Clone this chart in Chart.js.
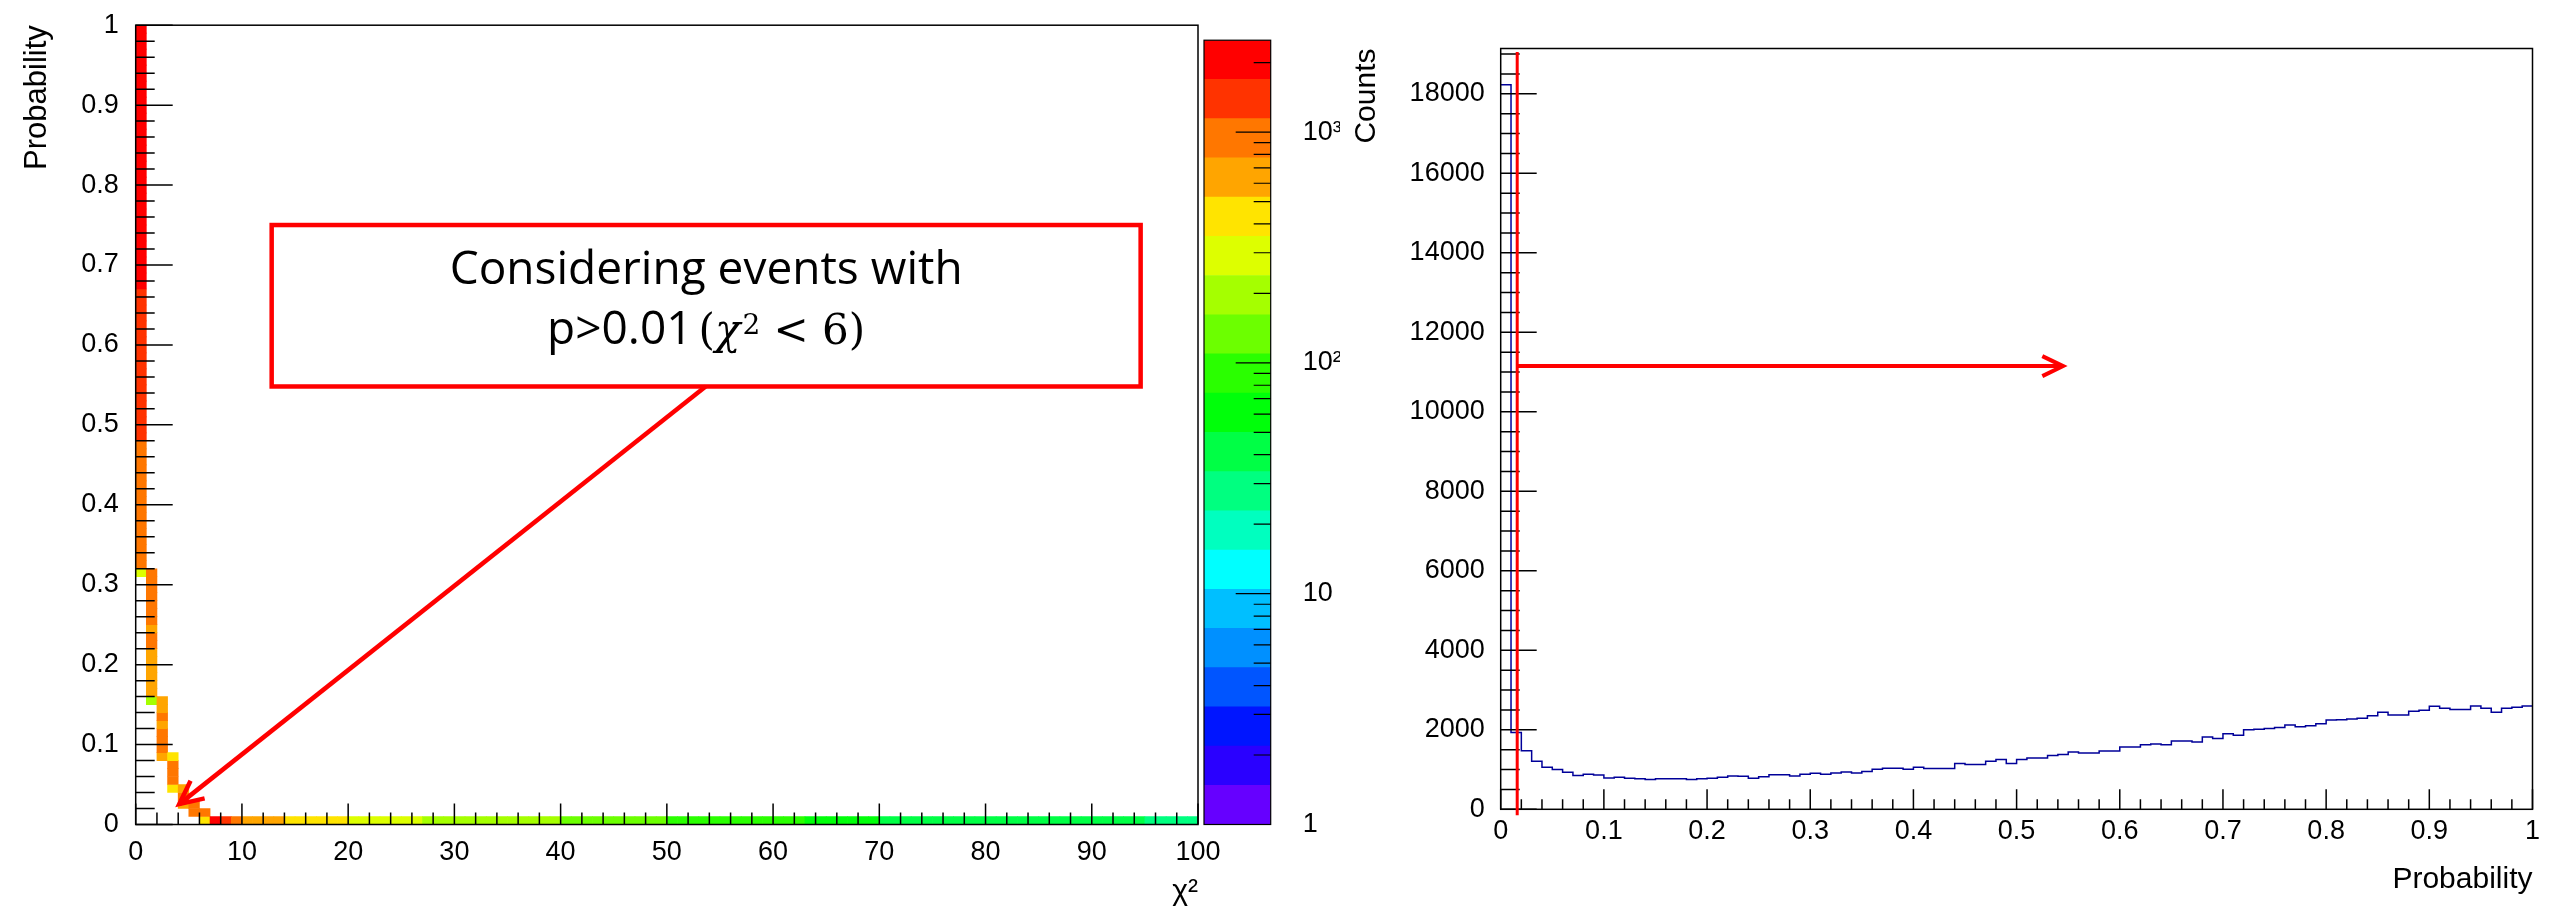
<!DOCTYPE html>
<html>
<head>
<meta charset="utf-8">
<script src="https://cdn.jsdelivr.net/npm/chart.js@4/dist/chart.umd.min.js"></script>
<style>
  html, body { margin: 0; padding: 0; background: #fff; }
  body { width: 2552px; height: 906px; position: relative; overflow: hidden; }
  canvas { position: absolute; top: 0; }
</style>
</head>
<body>
<canvas id="map" width="1240" height="906" style="left:0"></canvas>
<canvas id="zaxis" width="140" height="906" style="left:1200px"></canvas>
<canvas id="prob" width="1212" height="906" style="left:1340px"></canvas>
<script>
// chi2 / probability plots, ROOT look

// ---- left: chi2 vs probability map, cells 1 (chi2) x 0.01 (prob) ----
// chi2 columns 0..6 cover several probability rows (listed from lowest row up)
const colFirstRow = [31, 15, 8, 4, 2, 1, 0];
const colCounts = [
  [280,
   920, 940, 930, 950, 1000, 1030, 1030, 1010, 1050, 1030, 1030, 1030, 1080, 1090, 1100, 1110,
   1200, 1220, 1250, 1290, 1290, 1360, 1380, 1440, 1420, 1420, 1470, 1470, 1570, 1570, 1600, 1620, 1600, 1630, 1640,
   1700, 1820, 1780, 1900, 1860, 2000, 2020, 2030, 2060, 2120, 2080, 2100, 2150, 2250, 2250, 2270, 2290,
   2360, 2440, 2370, 2370, 2420, 2400, 2400, 2400, 2380, 2410, 2400, 2400, 2390, 2400, 2400, 2420],
  [200, 700, 700, 680, 700, 690, 700, 900, 900, 700, 900, 920, 900, 930, 900, 910, 920],
  [600, 900, 900, 900, 650, 900, 650, 650],
  [450, 900, 900, 900, 450],
  [650, 900, 650],
  [900, 900],
  [450, 850]
];
// chi2 columns 7..99 only fill the lowest probability row
const tailFirstBin = 7;
const tailCounts = [
  1900, 1300, 1000,
  700, 650, 600, 560,
  480, 460, 430, 410, 390, 370,
  330, 310, 300, 280, 270, 255, 245,
  225, 215, 205, 200, 195, 190, 185, 180, 175, 172, 170, 167, 165,
  150, 145, 140, 135, 130, 127, 124, 120, 117, 113,
  105, 102, 99, 96, 93, 90, 87, 85, 82, 80, 78, 77, 76,
  70, 67, 64, 61, 58, 55, 52,
  48, 47, 47, 46, 45, 45, 44, 43, 43, 42, 41, 41, 40, 39, 39, 38, 38, 37, 37, 36, 36, 35, 35, 34, 34,
  32, 31, 30, 29, 28
];

// colour axis (log)
const zMin = 1;
const zMax = 2500;
const zLabelText = { 1: '1', 10: '10', 100: '10²', 1000: '10³' };

// ---- right: probability distribution, 100 bins of 0.01 ----
const probCounts = [
  18230, 1930, 1470, 1210, 1060, 1000, 930, 850, 880, 860,
  790, 805, 780, 770, 750, 770, 770, 770, 750, 770,
  780, 805, 840, 830, 780, 820, 870, 870, 840, 880,
  905, 880, 915, 940, 915, 950, 1010, 1035, 1035, 1010,
  1060, 1025, 1025, 1025, 1150, 1130, 1130, 1210, 1250, 1150,
  1250, 1290, 1290, 1355, 1380, 1440, 1415, 1415, 1465, 1465,
  1570, 1570, 1625, 1645, 1625, 1720, 1720, 1695, 1820, 1780,
  1900, 1865, 2000, 2015, 2035, 2060, 2120, 2075, 2100, 2155,
  2245, 2255, 2270, 2290, 2355, 2440, 2375, 2375, 2465, 2490,
  2595, 2545, 2510, 2510, 2600, 2545, 2440, 2545, 2570, 2600
];
const countTicks = [0, 2000, 4000, 6000, 8000, 10000, 12000, 14000, 16000, 18000];
const probMax = 19140;
const cutProb = 0.016;          // red selection line
const arrowCounts = 11150;      // height of the horizontal arrow
const arrowEndProb = 0.545;

// annotation on the map (data coordinates)
const noteBox = { x0: 12.8, x1: 94.6, y0: 0.548, y1: 0.75 };
const noteArrow = { x0: 53.65, y0: 0.548, x1: 4.1, y1: 0.0255 };
const noteBaselines = [0.6758, 0.6014];

// ROOT rainbow palette, lowest band first
const palette = ['#6600ff', '#2a00ff', '#0015ff', '#0055ff', '#0090ff', '#00bfff', '#00ffff',
  '#00ffbf', '#00ff80', '#00ff45', '#00ff0a', '#2aff00', '#6cff00', '#a5ff00', '#ddff00',
  '#ffe400', '#ffa500', '#ff7700', '#ff3300', '#ff0000'];

Chart.defaults.font.family = "'Liberation Sans', Arial, sans-serif";
Chart.defaults.color = '#000';
Chart.defaults.animation = false;
Chart.defaults.plugins.legend.display = false;
Chart.defaults.plugins.tooltip.enabled = false;

const nBands = palette.length;
const zLog = Math.log10(zMax / zMin);
function bandOf(c) {
  const b = Math.floor(Math.log10(c / zMin) / zLog * nBands);
  return Math.max(0, Math.min(nBands - 1, b));
}
const fmt = v => String(+v.toFixed(2));

// inward ROOT style ticks + frame
function drawAxisTicks(ctx, scale, area, major, minor, nSub) {
  const vals = scale.ticks.map(t => t.value);
  const step = (vals[1] - vals[0]) / nSub;
  ctx.beginPath();
  for (let i = 0; ; i++) {
    const v = scale.min + i * step;
    if (v > scale.max + step * 1e-6) break;
    const len = i % nSub === 0 ? major : minor;
    const p = scale.getPixelForValue(v);
    if (scale.isHorizontal()) {
      ctx.moveTo(p, area.bottom); ctx.lineTo(p, area.bottom - len);
    } else {
      ctx.moveTo(area.left, p); ctx.lineTo(area.left + len, p);
    }
  }
  ctx.stroke();
}
function drawFrame(chart, tk) {
  const { ctx, chartArea: a, scales } = chart;
  ctx.save();
  ctx.strokeStyle = '#000';
  ctx.lineWidth = 1.5;
  ctx.strokeRect(a.left, a.top, a.right - a.left, a.bottom - a.top);
  drawAxisTicks(ctx, scales.x, a, tk.xMajor, tk.xMinor, tk.xSub);
  drawAxisTicks(ctx, scales.y, a, tk.yMajor, tk.yMinor, tk.ySub);
  ctx.restore();
}
function drawArrow(ctx, x1, y1, x2, y2, len, half) {
  ctx.beginPath(); ctx.moveTo(x1, y1); ctx.lineTo(x2, y2); ctx.stroke();
  const a = Math.atan2(y2 - y1, x2 - x1);
  ctx.beginPath();
  ctx.moveTo(x2 - len * Math.cos(a - half), y2 - len * Math.sin(a - half));
  ctx.lineTo(x2, y2);
  ctx.lineTo(x2 - len * Math.cos(a + half), y2 - len * Math.sin(a + half));
  ctx.stroke();
}

// ---------- left chart ----------
const cells = [];
colCounts.forEach((rows, k) => rows.forEach((c, i) => {
  const r = colFirstRow[k] + i;
  cells.push({ x: k + 0.5, y: [r / 100, (r + 1) / 100], c: c });
}));
tailCounts.forEach((c, i) => cells.push({ x: tailFirstBin + i + 0.5, y: [0, 0.01], c: c }));

const mapDecor = {
  id: 'mapDecor',
  afterDatasetsDraw(chart) {
    drawFrame(chart, { xMajor: 21, xMinor: 12, xSub: 5, yMajor: 37, yMinor: 19, ySub: 5 });
    const { ctx, scales: { x, y } } = chart;
    ctx.save();
    ctx.strokeStyle = '#ff0000';
    ctx.fillStyle = '#fff';
    ctx.lineWidth = 4.5;
    const bx0 = x.getPixelForValue(noteBox.x0), bx1 = x.getPixelForValue(noteBox.x1);
    const by0 = y.getPixelForValue(noteBox.y1), by1 = y.getPixelForValue(noteBox.y0);
    ctx.fillRect(bx0, by0, bx1 - bx0, by1 - by0);
    ctx.strokeRect(bx0, by0, bx1 - bx0, by1 - by0);
    ctx.lineJoin = 'miter';
    drawArrow(ctx, x.getPixelForValue(noteArrow.x0), y.getPixelForValue(noteArrow.y0),
      x.getPixelForValue(noteArrow.x1), y.getPixelForValue(noteArrow.y1), 26, 0.45);
    // text
    const cx = (bx0 + bx1) / 2;
    ctx.fillStyle = '#000';
    ctx.textBaseline = 'alphabetic';
    ctx.textAlign = 'center';
    ctx.font = "46px 'Open Sans'";
    ctx.fillText('Considering events with', cx, y.getPixelForValue(noteBaselines[0]));
    const parts = [
      { t: 'p>0.01', f: "46px 'Open Sans'", dy: 0, gap: 6 },
      { t: '(', f: "42px 'DejaVu Serif'", dy: 0, gap: 0 },
      { t: 'χ', f: "italic 42px 'DejaVu Serif'", dy: 0, gap: 2 },
      { t: '2', f: "28px 'DejaVu Serif'", dy: -10, gap: 0 },
      { t: ' < 6)', f: "42px 'DejaVu Serif'", dy: 0, gap: 0 }
    ];
    let w = 0;
    parts.forEach(p => { ctx.font = p.f; p.w = ctx.measureText(p.t).width; w += p.w + p.gap; });
    let px = cx - w / 2;
    const base2 = y.getPixelForValue(noteBaselines[1]);
    ctx.textAlign = 'left';
    parts.forEach(p => { ctx.font = p.f; ctx.fillText(p.t, px, base2 + p.dy); px += p.w + p.gap; });
    ctx.restore();
  }
};

new Chart(document.getElementById('map'), {
  type: 'bar',
  data: {
    datasets: [{
      data: cells,
      backgroundColor: c => palette[bandOf(c.raw.c)],
      borderWidth: 0,
      barPercentage: 1,
      categoryPercentage: 1
    }]
  },
  options: {
    responsive: false,
    layout: { padding: { left: 0, top: 19.3, right: 42, bottom: 0 } },
    scales: {
      x: {
        type: 'linear', min: 0, max: 100, offset: false,
        grid: { display: false }, border: { display: false },
        ticks: { stepSize: 10, padding: 4, maxRotation: 0, font: { size: 27 }, callback: fmt },
        title: { display: true, text: 'χ²', align: 'end', font: { size: 30 }, padding: { top: 0, bottom: -4 } },
        afterFit: s => { s.height = 81.5; }
      },
      y: {
        type: 'linear', min: 0, max: 1,
        grid: { display: false }, border: { display: false },
        ticks: { stepSize: 0.1, padding: 9, font: { size: 27 }, callback: fmt },
        title: { display: true, text: 'Probability', align: 'end', font: { size: 31 }, padding: { top: 19, bottom: 0 } },
        afterFit: s => { s.width = 135.7; }
      }
    }
  },
  plugins: [mapDecor]
});

// ---------- colour axis ----------
const bandSets = palette.map((col, i) => ({
  data: [[zMin * Math.pow(10, zLog * i / nBands), zMin * Math.pow(10, zLog * (i + 1) / nBands)]],
  backgroundColor: col,
  borderWidth: 0,
  barPercentage: 1,
  categoryPercentage: 1,
  grouped: false
}));

const zDecor = {
  id: 'zDecor',
  afterDatasetsDraw(chart) {
    const { ctx, chartArea: a, scales: { y } } = chart;
    ctx.save();
    ctx.strokeStyle = '#000';
    ctx.lineWidth = 1.2;
    ctx.strokeRect(a.left, a.top, a.right - a.left, a.bottom - a.top);
    ctx.beginPath();
    for (let dec = zMin; dec <= zMax; dec *= 10) {
      for (let m = 1; m < 10; m++) {
        const v = dec * m;
        if (v > zMax) break;
        const p = y.getPixelForValue(v);
        ctx.moveTo(a.right, p);
        ctx.lineTo(a.right - (m === 1 ? 35 : 17), p);
      }
    }
    ctx.stroke();
    ctx.restore();
  }
};

new Chart(document.getElementById('zaxis'), {
  type: 'bar',
  data: { labels: [''], datasets: bandSets },
  options: {
    responsive: false,
    layout: { padding: { left: 4, top: 19.3, right: 0, bottom: 81.5 } },
    scales: {
      x: { display: false },
      y: {
        type: 'logarithmic', position: 'right', min: zMin, max: zMax,
        grid: { display: false }, border: { display: false },
        ticks: {
          autoSkip: false, padding: 24, font: { size: 27 },
          callback: v => zLabelText[v] || ''
        },
        afterFit: s => { s.width = 69.3; }
      }
    }
  },
  plugins: [zDecor]
});

// ---------- right chart ----------
const probPoints = probCounts.map((c, i) => ({ x: i / 100, y: c }));
probPoints.push({ x: 1, y: probCounts[probCounts.length - 1] });

const probDecor = {
  id: 'probDecor',
  afterDatasetsDraw(chart) {
    drawFrame(chart, { xMajor: 20, xMinor: 10, xSub: 5, yMajor: 36, yMinor: 19, ySub: 4 });
    const { ctx, scales: { x, y } } = chart;
    ctx.save();
    ctx.strokeStyle = '#ff0000';
    ctx.lineWidth = 3;
    const cx = x.getPixelForValue(cutProb);
    ctx.beginPath();
    ctx.moveTo(cx, y.getPixelForValue(19050));
    ctx.lineTo(cx, y.getPixelForValue(-150));
    ctx.stroke();
    ctx.lineWidth = 4;
    ctx.lineJoin = 'miter';
    const ay = y.getPixelForValue(arrowCounts);
    drawArrow(ctx, cx, ay, x.getPixelForValue(arrowEndProb), ay, 23, 0.45);
    ctx.restore();
  }
};

new Chart(document.getElementById('prob'), {
  type: 'line',
  data: {
    datasets: [{
      data: probPoints,
      stepped: true,
      borderColor: '#000099',
      borderWidth: 1.5,
      pointRadius: 0,
      fill: false
    }]
  },
  options: {
    responsive: false,
    layout: { padding: { left: 0, top: 48.5, right: 19.5, bottom: 0 } },
    scales: {
      x: {
        type: 'linear', min: 0, max: 1,
        grid: { display: false }, border: { display: false },
        ticks: { stepSize: 0.1, padding: -2, maxRotation: 0, font: { size: 27 }, callback: fmt },
        title: { display: true, text: 'Probability', align: 'end', font: { size: 30 }, padding: { top: 0, bottom: 8 } },
        afterFit: s => { s.height = 96.7; }
      },
      y: {
        type: 'linear', min: 0, max: probMax,
        grid: { display: false }, border: { display: false },
        ticks: { padding: 8, font: { size: 27 }, callback: v => String(v) },
        afterBuildTicks: s => { s.ticks = countTicks.map(v => ({ value: v })); },
        title: { display: true, text: 'Counts', align: 'end', font: { size: 30 }, padding: { top: 9, bottom: 0 } },
        afterFit: s => { s.width = 160.7; }
      }
    }
  },
  plugins: [probDecor]
});
</script>
</body>
</html>
